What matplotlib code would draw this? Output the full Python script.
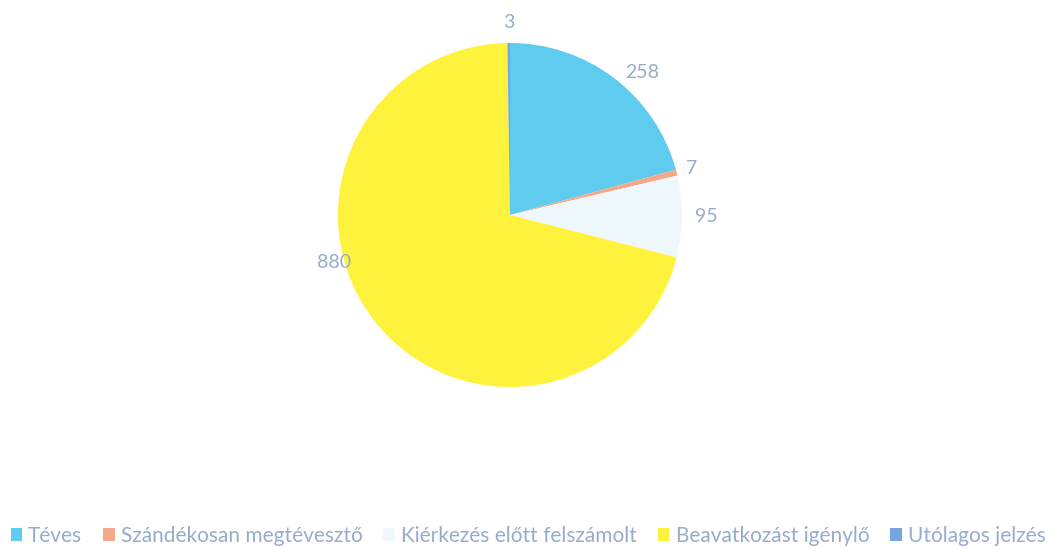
import numpy as np
import matplotlib.pyplot as plt
from matplotlib.patches import Patch

categories = ["Téves", "Szándékosan megtévesztő", "Kiérkezés előtt felszámolt",
              "Beavatkozást igénylő", "Utólagos jelzés"]
values = [258, 7, 95, 880, 3]
colors = ["#5fcbee", "#f4a98a", "#eef8fc", "#fff23c", "#74a6e0"]

plt.rcParams['font.family'] = ['Lato', 'DejaVu Sans']
label_color = "#97abcc"

W, H = 1056, 548
fig = plt.figure(figsize=(W / 100, H / 100), dpi=100)
cx, cy, R = 510, 215, 172
ax = fig.add_axes([(cx - R) / W, (H - cy - R) / H, 2 * R / W, 2 * R / H])

wedges, _ = ax.pie(values, colors=colors, startangle=90, counterclock=False,
                   radius=1.0, wedgeprops=dict(linewidth=0))
ax.set_xlim(-1, 1)
ax.set_ylim(-1, 1)
ax.set_aspect('equal')
ax.axis('off')

# label placement: mid angle of each wedge, a bit outside the rim
dist = [1.13, 1.09, 1.14, 1.06, 1.12]
angle_override = {0: 47, 3: 195}
for i, (w, v) in enumerate(zip(wedges, values)):
    ang = (w.theta1 + w.theta2) / 2
    if i in angle_override:
        ang = angle_override[i]
    x = dist[i] * np.cos(np.radians(ang))
    y = dist[i] * np.sin(np.radians(ang))
    ax.text(x, y, str(v), ha='center', va='center', fontsize=14,
            color=label_color)

handles = [Patch(facecolor=c, edgecolor='none') for c in colors]
fig.legend(handles, categories, loc='lower center', bbox_to_anchor=(0.5, -0.03),
           ncol=5, frameon=False, fontsize=15, handlelength=0.55,
           handleheight=0.55, handletextpad=0.3, columnspacing=1.0,
           labelcolor=label_color)

fig.savefig("out.png", dpi=100)
